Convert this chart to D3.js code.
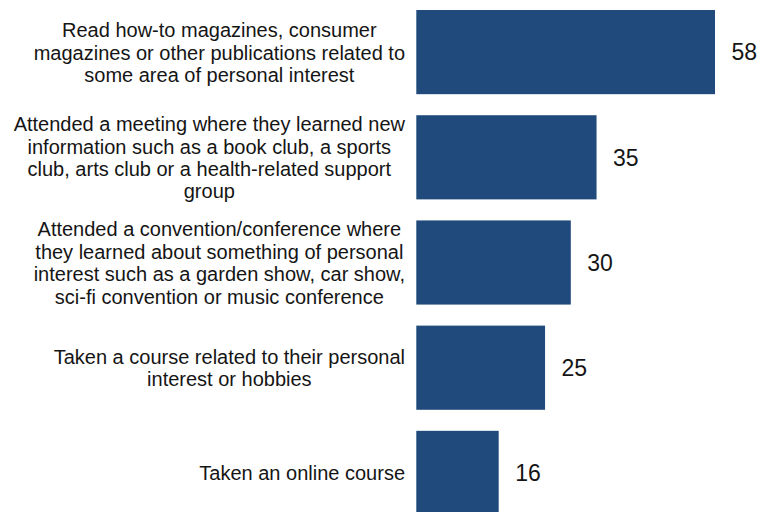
<!DOCTYPE html>
<html>
<head>
<meta charset="utf-8">
<script src="https://cdn.jsdelivr.net/npm/d3@7"></script>
<style>
  html, body { margin: 0; padding: 0; background: #fff; }
  svg { display: block; }
  text { font-family: "Liberation Sans", Arial, sans-serif; fill: #151515; }
</style>
</head>
<body>
<svg id="chart" width="764" height="512"></svg>
<script>
// Share who did each activity (%), one entry per category
const categories = [
  "Read how-to magazines",
  "Attended a meeting",
  "Attended a convention/conference",
  "Taken a course",
  "Taken an online course"
];
const values = [58, 35, 30, 25, 16];

// Wrapped label lines for each category
const labelLines = [
  ["Read how-to magazines, consumer",
   "magazines or other publications related to",
   "some area of personal interest"],
  ["Attended a meeting where they learned new",
   "information such as a book club, a sports",
   "club, arts club or a health-related support",
   "group"],
  ["Attended a convention/conference where",
   "they learned about something of personal",
   "interest such as a garden show, car show,",
   "sci-fi convention or music conference"],
  ["Taken a course related to their personal",
   "interest or hobbies"],
  ["Taken an online course"]
];

const W = 764, H = 512;
const barLeft = 416.3;
const labelRight = 405;
const lineHeight = 22.4;

const svg = d3.select("#chart");

const x = d3.scaleLinear().domain([0, 100]).range([barLeft, barLeft + 515]);
const y = d3.scaleBand()
  .domain(categories)
  .range([-0.5, 525.5])
  .paddingInner(0.2)
  .paddingOuter(0.1);

// Bars
svg.append("g").selectAll("rect")
  .data(categories)
  .join("rect")
  .attr("x", x(0))
  .attr("y", d => y(d))
  .attr("width", (d, i) => x(values[i]) - x(0))
  .attr("height", y.bandwidth())
  .attr("fill", "#204a7b");

// Value labels to the right of each bar
svg.append("g").selectAll("text")
  .data(categories)
  .join("text")
  .attr("x", (d, i) => x(values[i]) + 16.5)
  .attr("y", d => y(d) + y.bandwidth() / 2)
  .attr("dy", "0.36em")
  .style("font-size", "23px")
  .text((d, i) => values[i]);

// Category labels: centred lines, block right-aligned against the bars
const labelG = svg.append("g");
categories.forEach((c, i) => {
  const lines = labelLines[i];
  const g = labelG.append("g");
  const cy = y(c) + y.bandwidth() / 2;
  const t = g.append("text")
    .attr("text-anchor", "middle")
    .style("font-size", "20px");
  lines.forEach((ln, j) => {
    t.append("tspan")
      .attr("x", 0)
      .attr("y", cy + 7.5 + (j - (lines.length - 1) / 2) * lineHeight)
      .text(ln);
  });
  let maxW = 0;
  t.selectAll("tspan").each(function () {
    maxW = Math.max(maxW, this.getComputedTextLength());
  });
  g.attr("transform", `translate(${labelRight - maxW / 2},0)`);
});
</script>
</body>
</html>
